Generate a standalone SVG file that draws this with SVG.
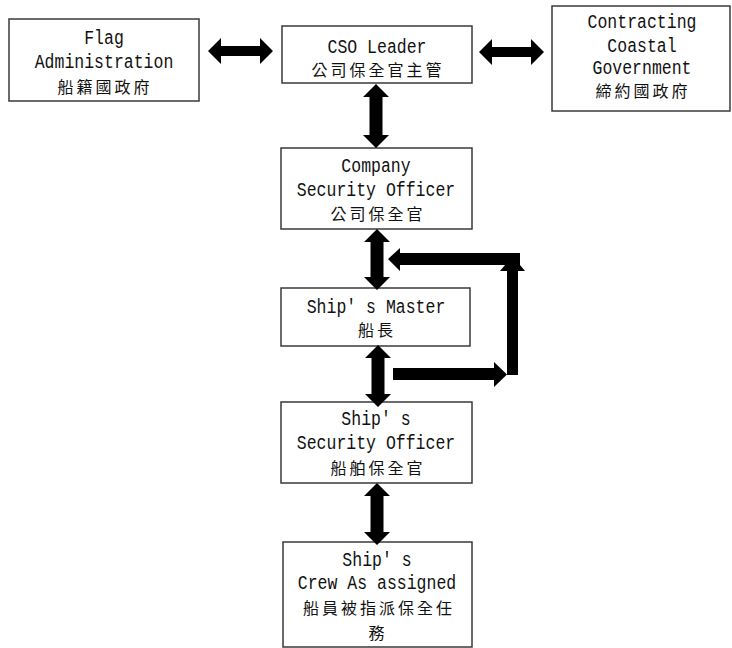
<svg xmlns="http://www.w3.org/2000/svg" width="732" height="648" viewBox="0 0 732 648">
<style>
.box{fill:#fff;stroke:#3a3a3a;stroke-width:1.5}
.t{font-family:"Liberation Mono","Noto Sans CJK TC",monospace;font-size:16.5px;fill:#111;text-anchor:middle}
.c{font-family:"Noto Sans CJK TC","Noto Sans CJK SC",sans-serif;font-size:16px;fill:#111;text-anchor:middle;letter-spacing:3px}
.ar{fill:#000}
</style>
<rect width="732" height="648" fill="#fff"/>
<g id="flag">
<rect class="box" x="9" y="19" width="190" height="82"/>
<text class="t" transform="translate(104,44) scale(1,1.2)">Flag</text>
<text class="t" transform="translate(104,68) scale(1,1.2)">Administration</text>
<text class="c" x="105" y="93">船籍國政府</text>
</g>
<g id="cso-leader">
<rect class="box" x="282" y="26" width="190" height="57"/>
<text class="t" transform="translate(377,53) scale(1,1.2)">CSO Leader</text>
<text class="c" x="378" y="76">公司保全官主管</text>
</g>
<g id="coastal">
<rect class="box" x="552" y="6" width="178" height="105"/>
<text class="t" transform="translate(642,28) scale(1,1.2)">Contracting</text>
<text class="t" transform="translate(642,52) scale(1,1.2)">Coastal</text>
<text class="t" transform="translate(642,74) scale(1,1.2)">Government</text>
<text class="c" x="643" y="97">締約國政府</text>
</g>
<g id="company">
<rect class="box" x="281" y="148" width="191" height="81"/>
<text class="t" transform="translate(376,172) scale(1,1.2)">Company</text>
<text class="t" transform="translate(376,196) scale(1,1.2)">Security Officer</text>
<text class="c" x="378" y="220">公司保全官</text>
</g>
<g id="master">
<rect class="box" x="281" y="288" width="189" height="58"/>
<text class="t" transform="translate(376,313) scale(1,1.2)">Ship' s Master</text>
<text class="c" x="377" y="336">船長</text>
</g>
<g id="sso">
<rect class="box" x="281" y="402" width="191" height="81"/>
<text class="t" transform="translate(376,425) scale(1,1.2)">Ship' s</text>
<text class="t" transform="translate(376,449) scale(1,1.2)">Security Officer</text>
<text class="c" x="378" y="474">船舶保全官</text>
</g>
<g id="crew">
<rect class="box" x="283" y="542" width="189" height="105"/>
<text class="t" transform="translate(377,566) scale(1,1.2)">Ship' s</text>
<text class="t" transform="translate(377,589) scale(1,1.2)">Crew As assigned</text>
<text class="c" x="379" y="614">船員被指派保全任</text>
<text class="c" x="378" y="639">務</text>
</g>
<g id="connectors">
<polygon class="ar" points="208,51 221,38 221,46 260,46 260,38 273,51 260,64 260,56 221,56 221,64"/>
<polygon class="ar" points="479,52 492,39 492,47 531,47 531,39 544,52 531,65 531,57 492,57 492,65"/>
<polygon class="ar" points="376,84 389,97 382.5,97 382.5,135 389,135 376,148 363,135 369.5,135 369.5,97 363,97"/>
<polygon class="ar" points="377,229 390,242 383.5,242 383.5,277 390,277 377,290 364,277 370.5,277 370.5,242 364,242"/>
<polygon class="ar" points="378,345 391,358 384.5,358 384.5,394 391,394 378,407 365,394 371.5,394 371.5,358 365,358"/>
<polygon class="ar" points="377,483 390,496 383.5,496 383.5,532 390,532 377,545 364,532 370.5,532 370.5,496 364,496"/>
<polygon class="ar" points="388,259 400,248 400,253 520,253 520,265 400,265 400,271"/>
<polygon class="ar" points="512.5,256 525,271 518,271 518,375 507,375 507,271 500,271"/>
<polygon class="ar" points="393,368 494,368 494,362 507,374.5 494,387 494,380 393,380"/>
</g>
</svg>
